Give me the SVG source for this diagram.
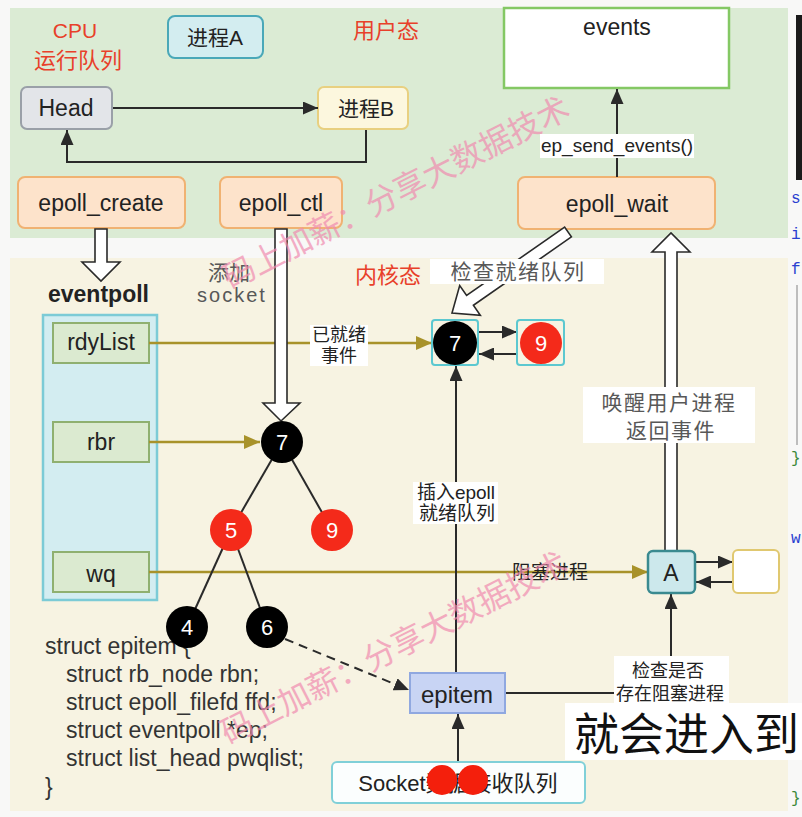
<svg xmlns="http://www.w3.org/2000/svg" width="802" height="817" viewBox="0 0 802 817">
<style>
.t{font-family:"Liberation Sans","Noto Sans CJK SC",sans-serif;fill:#222;}
.c{text-anchor:middle;}
.red{fill:#e8402a;font-size:22px;}
.gray{fill:#585858;}
.lbl{font-size:19px;}
.big{font-size:21px;letter-spacing:1.5px;}
.box{font-size:23px;}
.orange{fill:#fde3cb;stroke:#f0b272;stroke-width:2;}
.green{fill:#dbead0;stroke:#8fb070;stroke-width:2;}
.ln{stroke:#2a2a2a;stroke-width:2;fill:none;}
.ol{stroke:#a8922a;stroke-width:2.5;fill:none;}
.hollow{fill:#fff;stroke:#2a2a2a;stroke-width:1.6;stroke-linejoin:miter;}
.bw{fill:#000;}
.rd{fill:#f42a1a;}
.num{font-family:"Liberation Sans",sans-serif;font-size:22px;fill:#fff;text-anchor:middle;}
.wm{font-family:"Noto Sans CJK SC",sans-serif;font-size:32px;fill:#f08cb0;opacity:.7;}
.code{font-family:"Liberation Sans",sans-serif;font-size:23px;fill:#333;}
.bg{fill:#fff;}
</style>
<defs>
<marker id="ak" markerUnits="userSpaceOnUse" markerWidth="15" markerHeight="13" viewBox="0 0 15 13" refX="15" refY="6.5" orient="auto"><path d="M0,0L15,6.5L0,13z" fill="#2a2a2a"/></marker>
<marker id="ao" markerUnits="userSpaceOnUse" markerWidth="16" markerHeight="14" viewBox="0 0 16 14" refX="16" refY="7" orient="auto"><path d="M0,0L16,7L0,14z" fill="#a8922a"/></marker>
</defs>

<rect x="0" y="0" width="802" height="817" fill="#f8f8f7"/>
<rect x="10" y="8" width="778" height="230" fill="#dbebd4"/>
<rect x="10" y="258" width="778" height="553" fill="#f7f3e2"/>

<!-- right code strip -->
<rect x="796" y="15" width="6" height="165" fill="#1a1a1a"/>
<g font-family="Liberation Mono,monospace" font-size="16">
<text x="791" y="203" fill="#2a3fd0">s</text>
<text x="791" y="239" fill="#2a3fd0">i</text>
<text x="791" y="274" fill="#2a3fd0">f</text>
<text x="791" y="463" fill="#3a8a3a">}</text>
<text x="791" y="543" fill="#2a3fd0">w</text>
<text x="791" y="803" fill="#3a8a3a">}</text>
</g>
<line x1="797" y1="285" x2="797" y2="445" stroke="#aaa" stroke-width="1.5"/>

<!-- region labels -->
<text class="t red c" x="75" y="38" style="font-size:21px">CPU</text>
<text class="t red c" x="78" y="68">运行队列</text>
<text class="t red" x="353" y="38">用户态</text>
<text class="t red" x="355" y="283">内核态</text>
<text class="t" x="48" y="302" style="font-size:23px;font-weight:bold">eventpoll</text>

<!-- struct text -->
<g class="code">
<text x="45" y="654">struct epitem {</text>
<text x="66" y="682">struct rb_node rbn;</text>
<text x="66" y="710">struct epoll_filefd ffd;</text>
<text x="66" y="738">struct eventpoll *ep;</text>
<text x="66" y="766">struct list_head pwqlist;</text>
<text x="45" y="795">}</text>
</g>

<!-- nodes -->
<g id="procA"><rect x="168" y="16" width="95" height="42" rx="7" fill="#d3edf0" stroke="#4aa8b8" stroke-width="2"/><text class="t c" x="215" y="45" style="font-size:21px">进程A</text></g>
<g id="head"><rect x="21" y="87" width="91" height="42" rx="6" fill="#e3e5e9" stroke="#9aa0a8" stroke-width="2"/><text class="t c box" x="66" y="116">Head</text></g>
<g id="procB"><rect x="318" y="87" width="90" height="42" rx="6" fill="#fcf7de" stroke="#e8d080" stroke-width="2"/><text class="t c" x="366" y="116" style="font-size:21px">进程B</text></g>
<g id="epoll_create"><rect class="orange" x="18" y="177" width="167" height="51" rx="7"/><text class="t c box" x="101" y="211">epoll_create</text></g>
<g id="epoll_ctl"><rect class="orange" x="220" y="177" width="122" height="51" rx="7"/><text class="t c box" x="281" y="211">epoll_ctl</text></g>
<g id="events"><rect x="504" y="8" width="225" height="80" fill="#fff" stroke="#84c864" stroke-width="2.5"/><text class="t c box" x="617" y="35">events</text></g>
<g id="epoll_wait"><rect class="orange" x="518" y="177" width="197" height="52" rx="7"/><text class="t c box" x="617" y="212">epoll_wait</text></g>

<g id="eventpoll"><rect x="43" y="315" width="114" height="285" fill="#d3edf1" stroke="#7ccbd6" stroke-width="2.5"/></g>
<g id="rdyList"><rect class="green" x="53" y="323" width="96" height="40"/><text class="t c box" x="101" y="350">rdyList</text></g>
<g id="rbr"><rect class="green" x="53" y="422" width="96" height="40"/><text class="t c box" x="101" y="450">rbr</text></g>
<g id="wq"><rect class="green" x="53" y="552" width="96" height="40"/><text class="t c box" x="101" y="582">wq</text></g>

<!-- connectors -->
<g id="connectors">
<line class="ln" x1="113" y1="108" x2="318" y2="108" marker-end="url(#ak)"/>
<path class="ln" d="M366,130V162H67V130" marker-end="url(#ak)"/>
<line class="ln" x1="617" y1="177" x2="617" y2="89" marker-end="url(#ak)"/>
<line class="ol" x1="149" y1="343" x2="432" y2="343" marker-end="url(#ao)"/>
<line class="ol" x1="149" y1="442" x2="260" y2="442" marker-end="url(#ao)"/>
<line class="ol" x1="149" y1="572" x2="648" y2="572" marker-end="url(#ao)"/>
<line class="ln" x1="282" y1="442" x2="231" y2="530"/>
<line class="ln" x1="282" y1="442" x2="332" y2="530"/>
<line class="ln" x1="231" y1="530" x2="187" y2="627"/>
<line class="ln" x1="231" y1="530" x2="267" y2="627"/>
<line class="ln" x1="285" y1="639" x2="409" y2="690" stroke-dasharray="9,6" marker-end="url(#ak)"/>
<line class="ln" x1="458" y1="762" x2="458" y2="714" marker-end="url(#ak)"/>
<line class="ln" x1="456" y1="673" x2="456" y2="366" marker-end="url(#ak)"/>
<path class="ln" d="M505,693H671V594" marker-end="url(#ak)"/>
<line class="ln" x1="478" y1="332" x2="517" y2="332" marker-end="url(#ak)"/>
<line class="ln" x1="517" y1="354" x2="479" y2="354" marker-end="url(#ak)"/>
<line class="ln" x1="695" y1="562" x2="733" y2="562" marker-end="url(#ak)"/>
<line class="ln" x1="733" y1="582" x2="696" y2="582" marker-end="url(#ak)"/>
<polygon class="hollow" points="95,229 107,229 107,262 120,262 101,281 82,262 95,262"/>
<polygon class="hollow" points="275,229 287,229 287,403 300,403 281,421 263,403 275,403"/>
<polygon class="hollow" points="665,551 665,252 652,252 671,233 690,252 677,252 677,551"/>
<polygon class="hollow" points="564.6,227.1 466.6,295.5 459.7,285.6 452,313 480.3,315.2 473.4,305.3 571.4,236.9"/>
<!-- connector labels -->
<rect class="bg" x="540" y="134" width="154" height="24"/>
<text class="t c lbl" x="617" y="152">ep_send_events()</text>
<rect class="bg" x="310" y="325" width="58" height="41"/>
<text class="t c" x="339" y="341" style="font-size:18px">已就绪</text>
<text class="t c" x="339" y="362" style="font-size:18px">事件</text>
<text class="t c lbl" x="550" y="579">阻塞进程</text>
<rect class="bg" x="413" y="482" width="85" height="42"/>
<text class="t c lbl" x="456" y="499">插入epoll</text>
<text class="t c lbl" x="457" y="520">就绪队列</text>
<rect class="bg" x="614" y="656" width="115" height="47"/>
<text class="t c" x="668" y="677" style="font-size:18px">检查是否</text>
<text class="t c" x="670" y="700" style="font-size:18px">存在阻塞进程</text>
<rect class="bg" x="583" y="387" width="172" height="56"/>
<text class="t c big gray" x="669" y="410">唤醒用户进程</text>
<text class="t c big gray" x="671" y="438">返回事件</text>
<rect class="bg" x="430" y="259" width="174" height="25"/>
<text class="t c big gray" x="518" y="279">检查就绪队列</text>
<text class="t c gray" x="229" y="280" style="font-size:21px">添加</text>
<text class="t c gray" x="232" y="302" style="font-size:20px;letter-spacing:2px">socket</text>
</g>

<!-- tree nodes -->
<g id="t7"><circle class="bw" cx="282" cy="442" r="21"/><text class="num" x="282" y="450">7</text></g>
<g id="t5"><circle class="rd" cx="231" cy="530" r="21"/><text class="num" x="231" y="538">5</text></g>
<g id="t9"><circle class="rd" cx="332" cy="530" r="21"/><text class="num" x="332" y="538">9</text></g>
<g id="t4"><circle class="bw" cx="187" cy="627" r="21"/><text class="num" x="187" y="635">4</text></g>
<g id="t6"><circle class="bw" cx="267" cy="627" r="21"/><text class="num" x="267" y="635">6</text></g>

<g id="r7"><rect x="432" y="320" width="46" height="45" rx="3" fill="none" stroke="#5cc8d0" stroke-width="2"/><circle class="bw" cx="455" cy="343" r="22"/><text class="num" x="455" y="351">7</text></g>
<g id="r9"><rect x="517" y="320" width="47" height="45" rx="3" fill="none" stroke="#5cc8d0" stroke-width="2"/><circle class="rd" cx="541" cy="343" r="21"/><text class="num" x="541" y="351">9</text></g>

<g id="A"><rect x="648" y="551" width="47" height="42" rx="5" fill="#cce8ec" stroke="#3a8a90" stroke-width="2.5"/><text class="t c box" x="671" y="581">A</text></g>
<g id="Aright"><rect x="733" y="550" width="46" height="43" rx="5" fill="#fff" stroke="#e0c870" stroke-width="2"/></g>

<g id="epitem"><rect x="410" y="673" width="95" height="40" fill="#c8d4f4" stroke="#90a8e0" stroke-width="2"/><text class="t c" x="457" y="703" style="font-size:24px">epitem</text></g>
<g id="socket"><rect x="332" y="762" width="253" height="41" rx="5" fill="#fbfefe" stroke="#80d0d8" stroke-width="2"/><text class="t c" x="458" y="791" style="font-size:22px">Socket数据接收队列</text>
<circle cx="442" cy="780" r="15" fill="#f41f0c"/><circle cx="473" cy="780" r="15" fill="#f41f0c"/></g>

<!-- watermarks -->
<text class="wm" transform="translate(230,290) rotate(-27)">码上加薪：分享大数据技术</text>
<text class="wm" transform="translate(228,745) rotate(-27)">码上加薪：分享大数据技术</text>

<!-- subtitle -->
<rect x="565" y="703" width="237" height="57" fill="#fff"/>
<text x="574" y="751" font-family="Noto Sans CJK SC,sans-serif" font-size="45" fill="#111">就会进入到</text>
</svg>
